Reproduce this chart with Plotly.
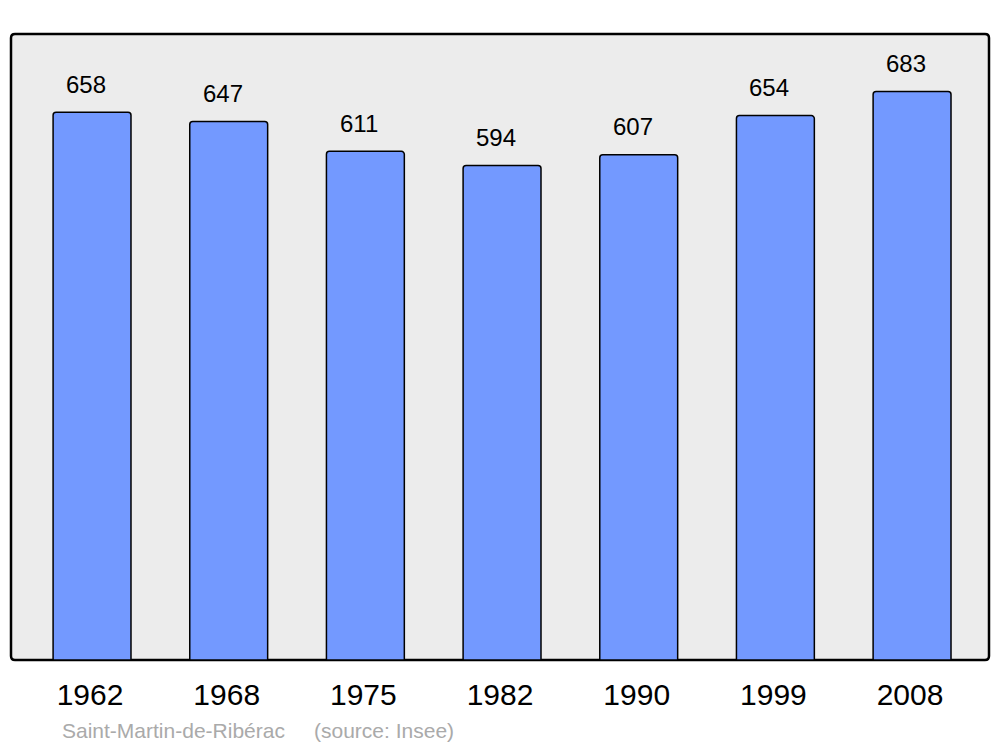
import plotly.graph_objects as go

years = ["1962", "1968", "1975", "1982", "1990", "1999", "2008"]
population = [658, 647, 611, 594, 607, 654, 683]
source_name = "Saint-Martin-de-Ribérac"
source_note = "(source: Insee)"

W, H = 1000, 747
L, R, T, B = 11, 11, 34, 87
FONT = "Liberation Sans, Arial"

idx = list(range(len(years)))

fig = go.Figure()
fig.add_trace(go.Bar(
    x=idx, y=population,
    width=0.57,
    marker=dict(color="#7399ff", line=dict(color="black", width=1.5)),
    hoverinfo="skip",
))

for i, v in zip(idx, population):
    fig.add_annotation(x=i, y=v, text=str(v), showarrow=False,
                       xanchor="center", yanchor="middle", yshift=28, xshift=-6,
                       font=dict(family=FONT, size=24, color="black"))

pw, ph = W - L - R, H - T - B
rx, ry = 4 / pw, 4 / ph
path = (f"M {rx} 0 L {1-rx} 0 Q 1 0 1 {ry} L 1 {1-ry} Q 1 1 {1-rx} 1 "
        f"L {rx} 1 Q 0 1 0 {1-ry} L 0 {ry} Q 0 0 {rx} 0 Z")
fig.add_shape(type="path", path=path, xref="paper", yref="paper",
              line=dict(color="black", width=2.5), fillcolor="#ececec", layer="below")

fig.add_annotation(x=(60 - L) / pw, y=(660 - 730) / ph, xref="paper", yref="paper",
                   text=source_name, showarrow=False, xanchor="left", yanchor="middle",
                   font=dict(family=FONT, size=21, color="#aaaaaa"))
fig.add_annotation(x=(312 - L) / pw, y=(660 - 730) / ph, xref="paper", yref="paper",
                   text=source_note, showarrow=False, xanchor="left", yanchor="middle",
                   font=dict(family=FONT, size=21, color="#aaaaaa"))

fig.update_layout(
    width=W, height=H,
    margin=dict(l=L, r=R, t=T, b=B, pad=0),
    paper_bgcolor="white", plot_bgcolor="rgba(0,0,0,0)",
    barcornerradius=3,
    showlegend=False,
    xaxis=dict(range=[-0.593, 6.563], showgrid=False, zeroline=False,
               showline=False, ticks="", tickmode="array", tickvals=idx, ticktext=years,
               ticklabelstandoff=14, ticklabelshift=-2,
               tickfont=dict(family=FONT, size=30, color="black"),
               fixedrange=True),
    yaxis=dict(range=[0, 752], showgrid=False, zeroline=False, showline=False,
               showticklabels=False, ticks="", fixedrange=True),
)

fig.write_html("out.html", config={"displayModeBar": False},
               post_script="document.body.style.margin='0';")
